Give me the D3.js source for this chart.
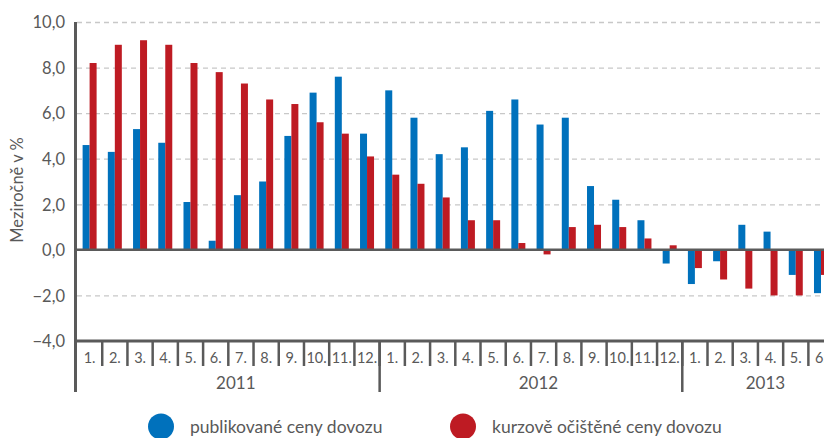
<!DOCTYPE html>
<html>
<head>
<meta charset="UTF-8">
<script src="https://d3js.org/d3.v7.min.js"></script>
<style>
  body { margin: 0; background: #fff; }
  svg text { font-family: Lato, "Noto Sans", sans-serif; fill: #595959; }
  .grid line { stroke: #c8c8c8; stroke-width: 1.3; stroke-dasharray: 5,4; }
  .grid .domain { stroke: none; }
</style>
</head>
<body>
<svg id="chart" width="824" height="438"></svg>
<script>
const years = ["2011", "2012", "2013"];
const monthsPerYear = [12, 12, 6];
const monthLabels = ["1.","2.","3.","4.","5.","6.","7.","8.","9.","10.","11.","12.",
                     "1.","2.","3.","4.","5.","6.","7.","8.","9.","10.","11.","12.",
                     "1.","2.","3.","4.","5.","6."];
const publikovane = [4.6, 4.3, 5.3, 4.7, 2.1, 0.4, 2.4, 3.0, 5.0, 6.9, 7.6, 5.1,
                     7.0, 5.8, 4.2, 4.5, 6.1, 6.6, 5.5, 5.8, 2.8, 2.2, 1.3, -0.6,
                     -1.5, -0.5, 1.1, 0.8, -1.1, -1.9];
const kurzove = [8.2, 9.0, 9.2, 9.0, 8.2, 7.8, 7.3, 6.6, 6.4, 5.6, 5.1, 4.1,
                 3.3, 2.9, 2.3, 1.3, 1.3, 0.3, -0.2, 1.0, 1.1, 1.0, 0.5, 0.2,
                 -0.8, -1.3, -1.7, -2.0, -2.0, -1.1];
const yTicks = [-4, -2, 0, 2, 4, 6, 8, 10];
const seriesNames = ["publikované ceny dovozu", "kurzově očištěné ceny dovozu"];
const colors = ["#0071bc", "#be1b23"];

const svg = d3.select("#chart");
const plotLeft = 77, plotRight = 77 + 30 * 25.22;
const plotTop = 22, plotBottom = 341;

const idx = d3.range(monthLabels.length);
const x = d3.scaleBand().domain(idx).range([plotLeft, plotRight]).padding(0);
const bw = x.bandwidth();
const xSub = d3.scaleBand().domain([0, 1]).range([0, bw]).paddingInner(0).paddingOuter((bw / 7 - 2) / 2);
const y = d3.scaleLinear().domain([-4, 10]).range([plotBottom, plotTop]);

// gridlines
svg.append("g")
   .attr("class", "grid")
   .attr("transform", "translate(" + plotLeft + ",0)")
   .call(d3.axisLeft(y).tickValues(yTicks.filter(d => d !== -4 && d !== 0)).tickFormat("").tickSize(-(824 - plotLeft)));

// bars
[publikovane, kurzove].forEach((vals, s) => {
  svg.append("g").selectAll("rect")
     .data(vals)
     .join("rect")
     .attr("x", (d, i) => x(i) + xSub(s))
     .attr("width", xSub.bandwidth())
     .attr("y", d => y(Math.max(0, d)))
     .attr("height", d => Math.abs(y(d) - y(0)))
     .attr("fill", colors[s]);
});

// zero line
svg.append("line")
   .attr("x1", plotLeft).attr("x2", 824)
   .attr("y1", y(0)).attr("y2", y(0))
   .attr("stroke", "#5a5a5a").attr("stroke-width", 2.5);

// y axis
const yAxis = svg.append("g")
   .attr("transform", "translate(" + plotLeft + ",0)")
   .call(d3.axisLeft(y).tickValues(yTicks).tickSize(0).tickPadding(12)
         .tickFormat(d => d3.format(".1f")(d).replace(".", ",").replace("-", "\u2212")));
yAxis.select(".domain").remove();
yAxis.selectAll("text").style("font-size", "16.5px").attr("dy", "0.35em");

svg.append("line")
   .attr("x1", plotLeft - 1.5).attr("x2", plotLeft - 1.5)
   .attr("y1", plotTop).attr("y2", 392)
   .attr("stroke", "#5a5a5a").attr("stroke-width", 3);

// bottom axis
svg.append("line")
   .attr("x1", plotLeft).attr("x2", 824)
   .attr("y1", plotBottom).attr("y2", plotBottom)
   .attr("stroke", "#5a5a5a").attr("stroke-width", 3);

// month separators
svg.append("g").selectAll("line")
   .data(idx.slice(1))
   .join("line")
   .attr("x1", d => x(d)).attr("x2", d => x(d))
   .attr("y1", plotBottom).attr("y2", 366)
   .attr("stroke", "#5a5a5a").attr("stroke-width", 2.5);

svg.append("g").selectAll("text")
   .data(idx)
   .join("text")
   .attr("x", d => x(d) + bw / 2)
   .attr("y", 358)
   .attr("dy", "0.35em")
   .attr("text-anchor", "middle")
   .style("font-size", "14.5px")
   .text(d => monthLabels[d]);

// year separators and labels
let start = 0;
years.forEach((yr, k) => {
  const end = start + monthsPerYear[k];
  if (k > 0) {
    svg.append("line")
       .attr("x1", x(start)).attr("x2", x(start))
       .attr("y1", plotBottom).attr("y2", 392)
       .attr("stroke", "#5a5a5a").attr("stroke-width", 2.5);
  }
  const x0 = x(start), x1 = x(end - 1) + bw;
  svg.append("text")
     .attr("x", (x0 + x1) / 2 + 7.5)
     .attr("y", 383)
     .attr("dy", "0.35em")
     .attr("text-anchor", "middle")
     .style("font-size", "17px")
     .text(yr);
  start = end;
});

// y title
svg.append("text")
   .attr("transform", "translate(23,190) rotate(-90)")
   .attr("text-anchor", "middle")
   .style("font-size", "16.5px")
   .text("Meziročně v %");

// legend
const legendX = [161, 463];
seriesNames.forEach((name, s) => {
  svg.append("circle")
     .attr("cx", legendX[s]).attr("cy", 426.5).attr("r", 13)
     .attr("fill", colors[s]);
  svg.append("text")
     .attr("x", legendX[s] + 29)
     .attr("y", 427)
     .attr("dy", "0.35em")
     .style("font-size", "17.5px")
     .text(name);
});
</script>
</body>
</html>
